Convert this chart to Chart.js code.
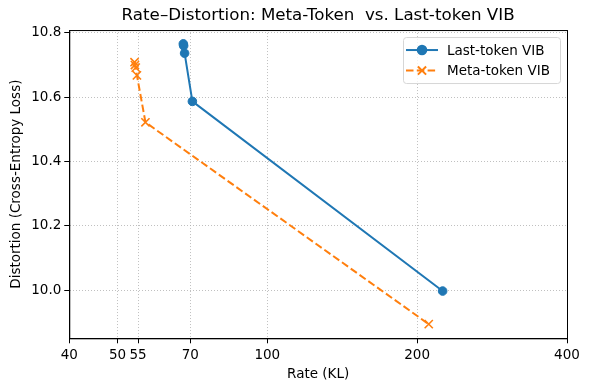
<!DOCTYPE html>
<html>
<head>
<meta charset="utf-8">
<script src="https://cdn.jsdelivr.net/npm/chart.js@4"></script>
<style>
  html, body { margin: 0; padding: 0; background: #fff; }
  #wrap { width: 590px; height: 390px; }
</style>
</head>
<body>
<div id="wrap"><canvas id="chart"></canvas></div>
<script>
// Rate (KL) and distortion values
const lastRate = [67.8, 67.9, 68.2, 70.7, 225];
const lastDist = [10.766, 10.760, 10.737, 10.587, 9.997];
const metaRate = [54.1, 54.2, 54.4, 54.7, 56.9, 211];
const metaDist = [10.709, 10.700, 10.692, 10.668, 10.522, 9.894];
const xTicks = [40, 50, 55, 70, 100, 200, 400];
const yTicks = [10.0, 10.2, 10.4, 10.6, 10.8];

const FONT = 'DejaVu Sans';
const TICK_FONT = { size: 13.5 };
const AXIS_GRID = { color: '#b0b0b0', lineWidth: 0.8, drawTicks: true, tickLength: 5, tickColor: '#000', tickWidth: 1 };
const AXIS_BORDER = { color: '#000', width: 1, dash: [1, 2] };

const toPoints = (xs, ys) => xs.map((x, i) => ({ x, y: ys[i] }));

Chart.defaults.font.family = FONT;
Chart.defaults.color = '#000';

// matplotlib-like legend box in the upper right of the plot area
const legendBox = {
    id: 'legendBox',
    afterDraw(chart) {
        const { ctx, chartArea: a } = chart;
        const sets = chart.data.datasets;
        const w = 157, rowH = 20.5, h = 46;
        const x0 = a.right - 7 - w, y0 = a.top + 7;
        ctx.save();
        ctx.beginPath();
        ctx.roundRect(x0 + 0.5, y0 + 0.5, w, h, 3);
        ctx.fillStyle = 'rgba(255,255,255,0.8)';
        ctx.fill();
        ctx.strokeStyle = '#d6d6d6';
        ctx.lineWidth = 1;
        ctx.stroke();
        sets.forEach((ds, i) => {
            const cy = y0 + 13 + i * rowH;
            ctx.strokeStyle = ds.borderColor;
            ctx.lineWidth = ds.borderWidth;
            ctx.setLineDash(ds.borderDash || []);
            ctx.beginPath();
            ctx.moveTo(x0 + 3, cy);
            ctx.lineTo(x0 + 35, cy);
            ctx.stroke();
            ctx.setLineDash([]);
            Chart.helpers.drawPoint(ctx, {
                pointStyle: ds.pointStyle,
                radius: ds.pointRadius,
                borderWidth: ds.pointBorderWidth || 1
            }, x0 + 19, cy);
            if (ds.pointStyle === 'circle') ctx.fillStyle = ds.backgroundColor, ctx.fill();
            ctx.fillStyle = '#000';
            ctx.font = '13.5px ' + FONT;
            ctx.textBaseline = 'middle';
            ctx.fillText(ds.label, x0 + 44, cy + 1);
        });
        ctx.restore();
    }
};

const frame = {
    id: 'frame',
    afterDraw(chart) {
        const { ctx, chartArea: a } = chart;
        ctx.save();
        ctx.strokeStyle = '#000';
        ctx.lineWidth = 1;
        ctx.setLineDash([]);
        ctx.strokeRect(a.left + 0.5, a.top + 0.5, a.right - a.left, a.bottom - a.top);
        ctx.restore();
    }
};

new Chart(document.getElementById('chart'), {
    type: 'scatter',
    data: {
        datasets: [{
            label: 'Last-token VIB',
            data: toPoints(lastRate, lastDist),
            showLine: true,
            borderColor: '#1f77b4',
            backgroundColor: '#1f77b4',
            borderWidth: 2,
            pointStyle: 'circle',
            pointRadius: 4.3,
            pointBorderWidth: 1,
            pointHoverRadius: 4.3
        }, {
            label: 'Meta-token VIB',
            data: toPoints(metaRate, metaDist),
            showLine: true,
            borderColor: '#ff7f0e',
            backgroundColor: '#ff7f0e',
            borderWidth: 2,
            borderDash: [7.5, 3.3],
            pointStyle: 'crossRot',
            pointRadius: 5.8,
            pointBorderWidth: 1.6,
            pointHoverRadius: 5.8
        }]
    },
    options: {
        responsive: true,
        maintainAspectRatio: false,
        animation: false,
        layout: { padding: { left: 8, right: 23, top: 3, bottom: 9 } },
        plugins: {
            title: {
                display: true,
                fullSize: false,
                text: 'Rate\u2013Distortion: Meta-Token  vs. Last-token VIB',
                font: { size: 16.7, weight: 'normal' },
                color: '#000',
                padding: { top: 3, bottom: 4 }
            },
            legend: { display: false },
            tooltip: { enabled: false }
        },
        scales: {
            x: {
                type: 'logarithmic',
                min: 40,
                max: 400,
                afterBuildTicks: axis => { axis.ticks = xTicks.map(v => ({ value: v })); },
                ticks: { autoSkip: false, maxRotation: 0, font: TICK_FONT, padding: 4, callback: v => String(v) },
                grid: AXIS_GRID,
                border: AXIS_BORDER,
                title: { display: true, text: 'Rate (KL)', font: { size: 13.5, lineHeight: 1.0 }, padding: { top: 0, bottom: 0 } }
            },
            y: {
                min: 9.85,
                max: 10.809,
                afterBuildTicks: axis => { axis.ticks = yTicks.map(v => ({ value: v })); },
                ticks: { font: TICK_FONT, padding: 3, callback: v => v.toFixed(1) },
                grid: AXIS_GRID,
                border: AXIS_BORDER,
                title: { display: true, text: 'Distortion (Cross-Entropy Loss)', font: TICK_FONT, padding: { top: 0, bottom: 4 } }
            }
        }
    },
    plugins: [frame, legendBox]
});
</script>
</body>
</html>
